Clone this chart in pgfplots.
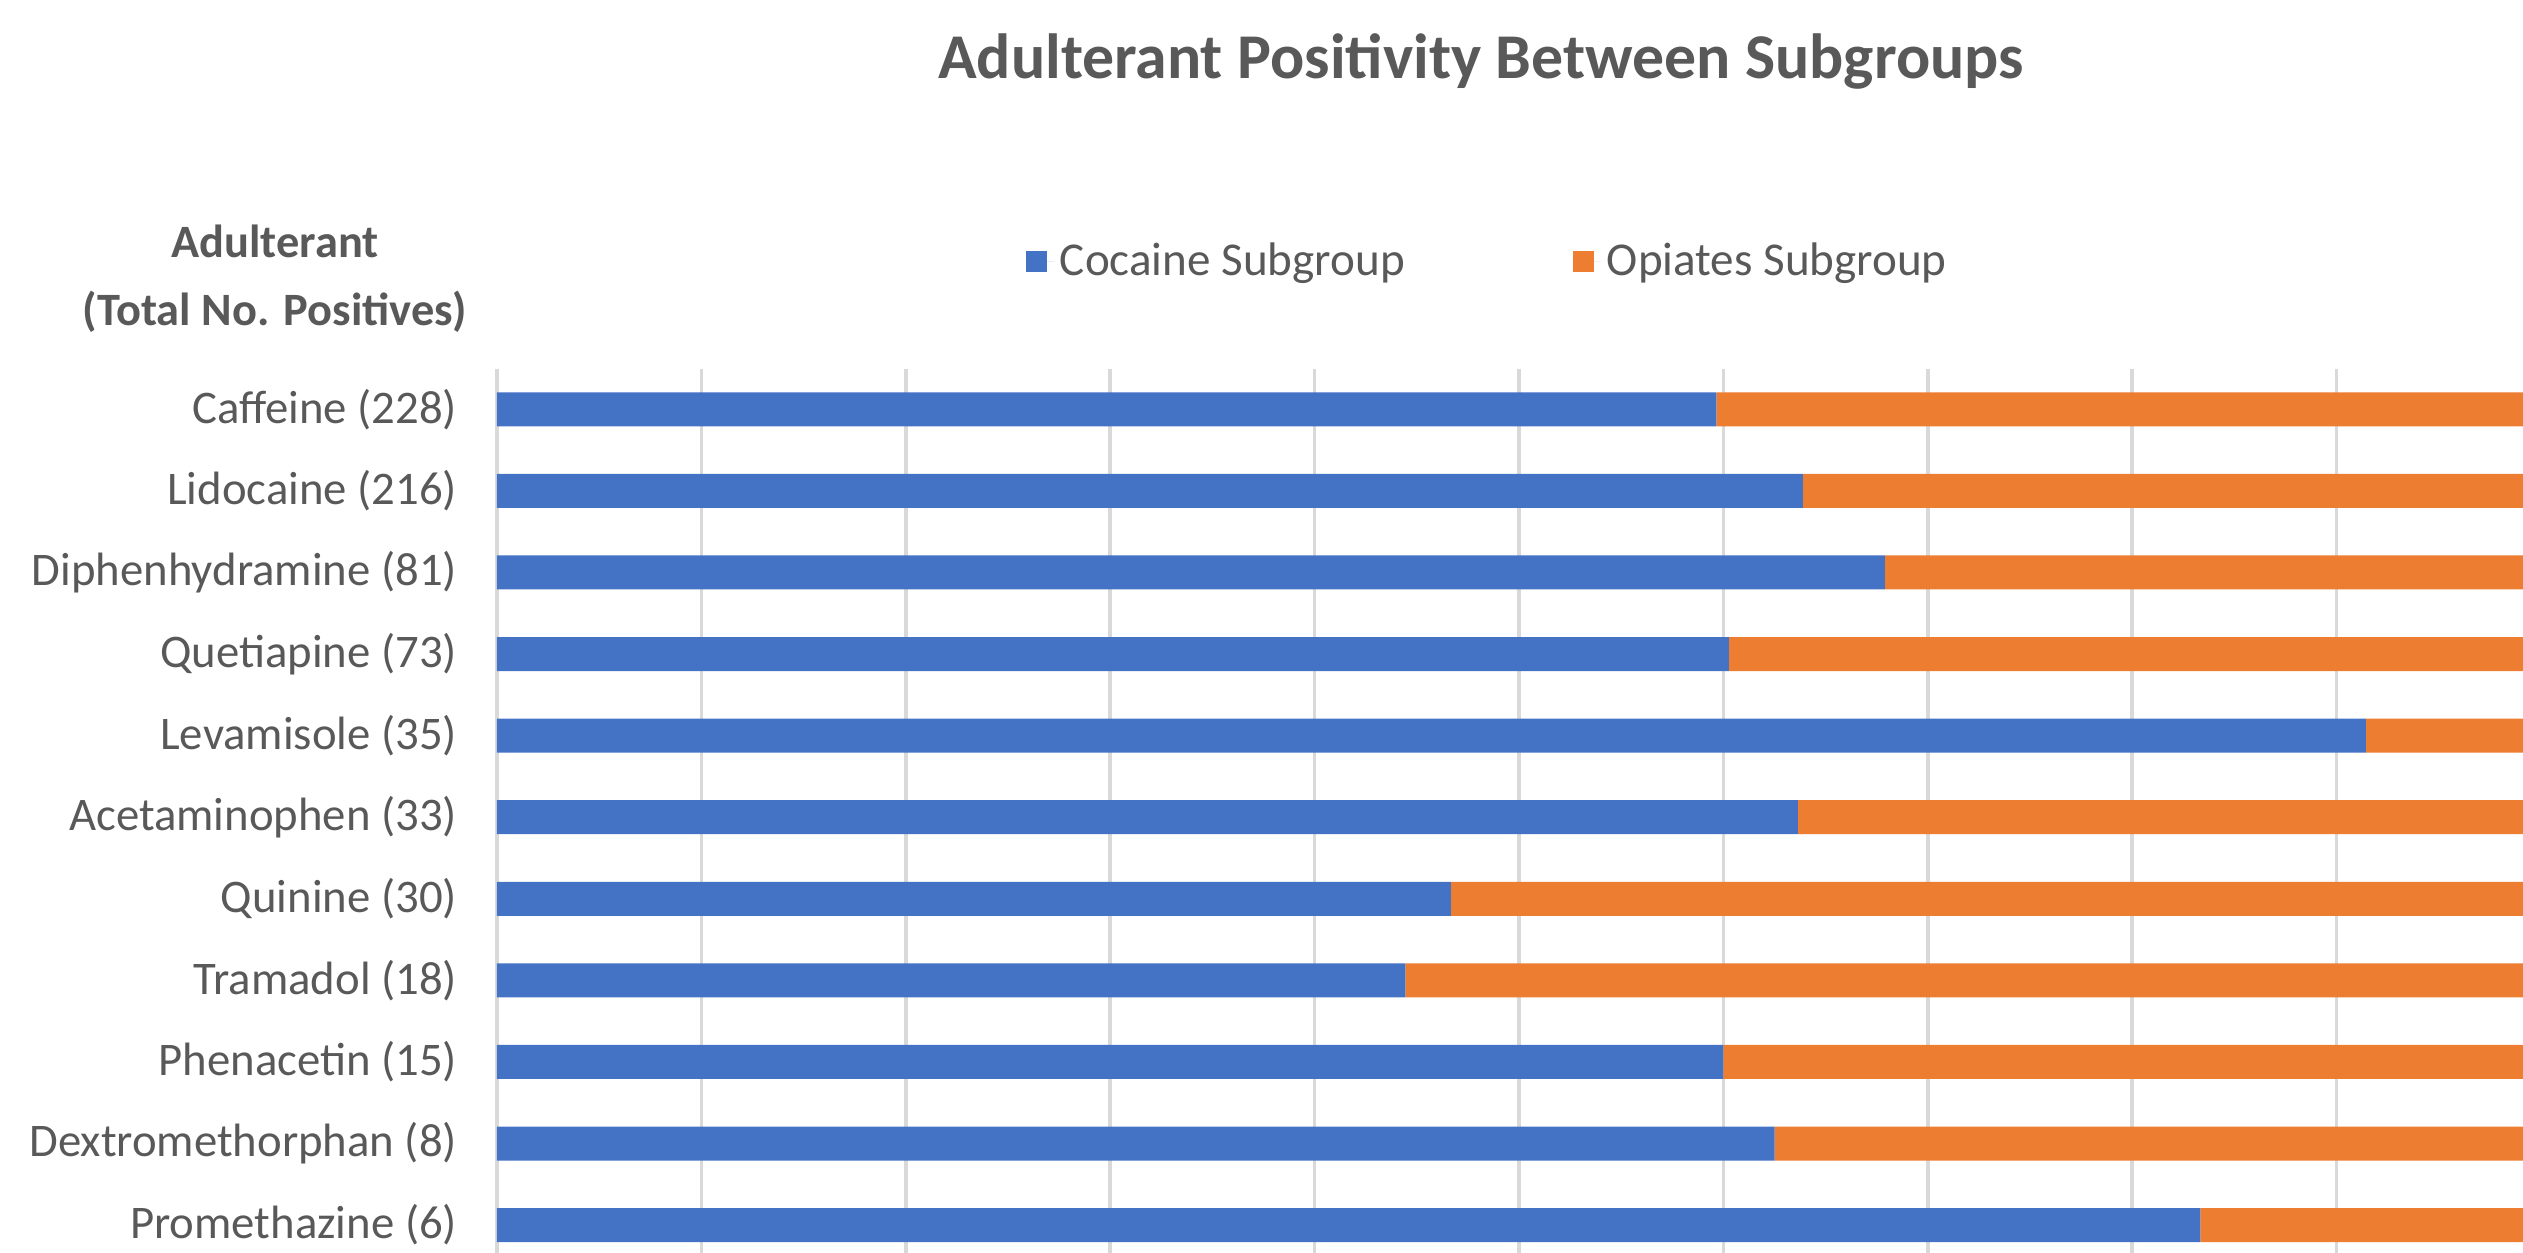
\documentclass[border=0pt]{standalone}
\usepackage{fontspec}
\setmainfont{Carlito}
\usepackage{pgfplots}
\pgfplotsset{compat=1.18}
\definecolor{cblue}{HTML}{4472C4}
\definecolor{corange}{HTML}{ED7D31}
\definecolor{gridc}{HTML}{D9D9D9}
\definecolor{txt}{HTML}{595959}
\begin{document}
\begin{tikzpicture}
\useasboundingbox (-49.7mm,36.85mm) rectangle (202.6mm,-88.45mm);
\clip (-49.7mm,36.85mm) rectangle (202.6mm,-88.45mm);
\begin{axis}[
  at={(0,0)}, anchor=north west,
  scale only axis, width=204.4mm, height=89.74mm,
  xbar stacked, bar width=3.4mm,
  xmin=0, xmax=100, ymin=-0.5, ymax=10.5, y dir=reverse,
  xtick={0,10,...,100}, xticklabels=\empty, xmajorgrids,
  grid style={gridc, line width=0.35mm},
  ytick={0,...,10},
  yticklabels={Caffeine (228),Lidocaine (216),Diphenhydramine (81),Quetiapine (73),Levamisole (35),Acetaminophen (33),Quinine (30),Tramadol (18),Phenacetin (15),Dextromethorphan (8),Promethazine (6)},
  yticklabel style={font=\fontsize{13.3}{15}\selectfont, text=txt, xshift=-2.75mm},
  major tick length=0pt,
  axis line style={draw=none},
  clip=false,
  title={Adulterant Positivity Between Subgroups},
  title style={at={(axis description cs:0.4814,1.300)}, anchor=base, font=\fontsize{18.15}{22}\selectfont\bfseries, text=txt},
  ylabel={Adulterant\\(Total No. Positives)},
  every axis y label/.style={at={(axis description cs:-0.1086,1.100)}, anchor=center, align=center, font=\fontsize{13.2}{19.3}\selectfont\bfseries, text=txt},
  legend columns=2,
  legend style={at={(axis description cs:0.4855,1.119)}, anchor=center, draw=none, font=\fontsize{13.4}{15}\selectfont, text=txt, nodes={inner xsep=0.6mm}, /tikz/every even column/.append style={column sep=16.2mm}},
  legend image code/.code={\path (0mm,0mm) -- (2.8mm,0mm); \fill[#1] (0mm,-1.05mm) rectangle (2.1mm,1.05mm);},
]
\addplot[fill=cblue, draw=none] coordinates {(59.65,0) (63.89,1) (67.90,2) (60.27,3) (91.43,4) (63.64,5) (46.67,6) (44.44,7) (60.00,8) (62.50,9) (83.33,10)};
\addlegendentry{Cocaine Subgroup}
\addplot[fill=corange, draw=none] coordinates {(40.35,0) (36.11,1) (32.10,2) (39.73,3) (8.57,4) (36.36,5) (53.33,6) (55.56,7) (40.00,8) (37.50,9) (16.67,10)};
\addlegendentry{Opiates Subgroup}
\end{axis}
\end{tikzpicture}
\end{document}
